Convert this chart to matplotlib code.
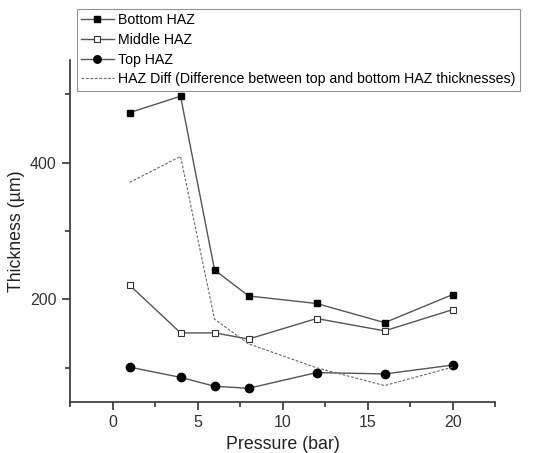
import numpy as np
import matplotlib
matplotlib.use('Agg')
import matplotlib.pyplot as plt
from matplotlib.ticker import MultipleLocator

plt.rcParams['font.family'] = ['Liberation Sans', 'DejaVu Sans']

pressure = [1, 4, 6, 8, 12, 16, 20]
bottom_haz = [473, 497, 243, 205, 194, 166, 207]
middle_haz = [221, 151, 151, 142, 172, 154, 185]
top_haz = [101, 86, 73, 70, 93, 91, 104]
haz_diff = [371, 409, 171, 135, 100, 74, 101]

fig = plt.figure(figsize=(5.57, 4.53), dpi=100)
ax = fig.add_axes([0.1257, 0.1126, 0.7633, 0.755])

lc = '#555555'
ax.plot(pressure, bottom_haz, '-', color=lc, lw=1, marker='s', ms=5,
        mfc='black', mec='black', label='Bottom HAZ')
ax.plot(pressure, middle_haz, '-', color=lc, lw=1, marker='s', ms=5,
        mfc='white', mec='#333333', mew=0.8, label='Middle HAZ')
ax.plot(pressure, top_haz, '-', color=lc, lw=1, marker='o', ms=6,
        mfc='black', mec='black', label='Top HAZ')
ax.plot(pressure, haz_diff, '--', color='#666666', lw=0.8, dashes=(2.5, 1.5),
        label='HAZ Diff (Difference between top and bottom HAZ thicknesses)')

ax.set_xlim(-2.5, 22.5)
ax.set_ylim(50, 550)
ax.xaxis.set_major_locator(MultipleLocator(5))
ax.xaxis.set_minor_locator(MultipleLocator(2.5))
ax.yaxis.set_major_locator(MultipleLocator(200))
ax.yaxis.set_minor_locator(MultipleLocator(100))
ax.spines['top'].set_visible(False)
ax.spines['right'].set_visible(False)
for s in ['left', 'bottom']:
    ax.spines[s].set_color('#333333')
    ax.spines[s].set_linewidth(1.2)
ax.tick_params(which='major', direction='out', length=6, width=1.2,
               colors='#333333', labelsize=11.5)
ax.tick_params(which='minor', direction='out', length=3.5, width=1.2,
               colors='#333333')
ax.set_xlabel('Pressure (bar)', fontsize=12.8, color='#222222')
ax.set_ylabel('Thickness (\u00b5m)', fontsize=12.8, color='#222222')

leg = fig.legend(loc='upper left', bbox_to_anchor=(0.138, 0.98),
                 fontsize=10.2, frameon=True, fancybox=False, edgecolor='#777777',
                 borderpad=0.3, labelspacing=0.4, handlelength=2.3,
                 handletextpad=0.3, borderaxespad=0, markerscale=0.9)
leg.get_frame().set_linewidth(0.8)

fig.savefig('out.png', dpi=100)
